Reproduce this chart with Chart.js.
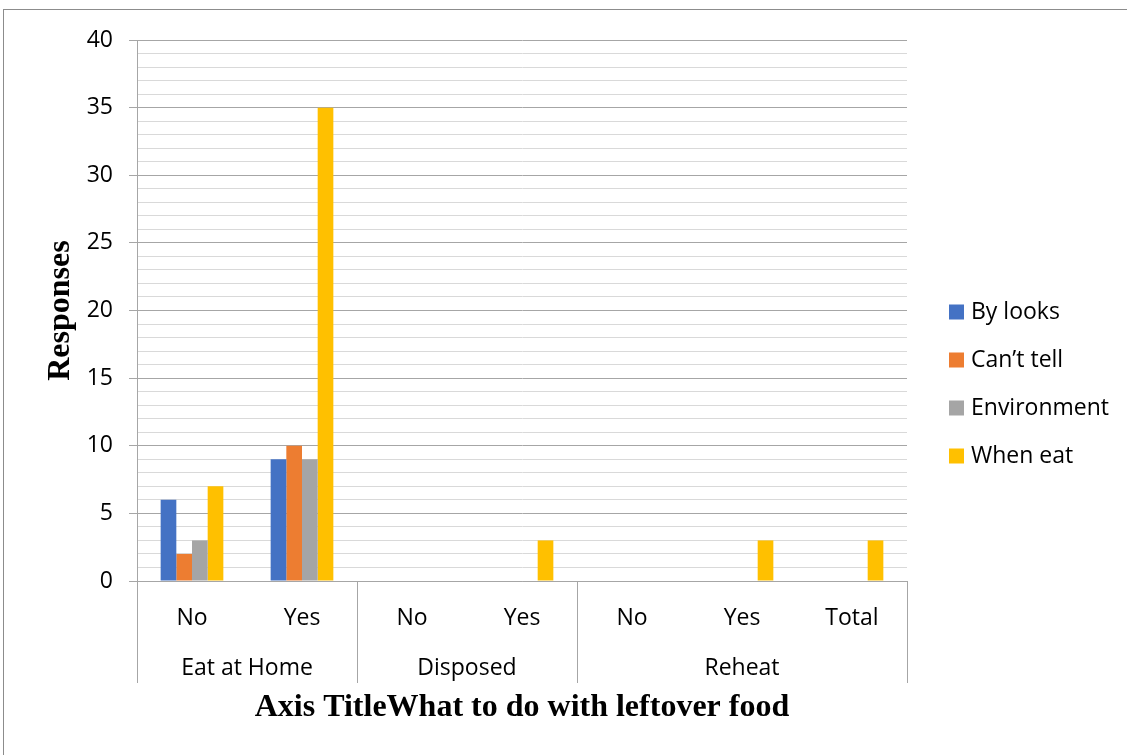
<!DOCTYPE html>
<html>
<head>
<meta charset="utf-8">
<script src="https://cdn.jsdelivr.net/npm/chart.js@4.4.1/dist/chart.umd.min.js"></script>
<style>
  html, body { margin: 0; padding: 0; background: #fff; overflow: hidden; }
  #wrap { position: relative; width: 1127px; height: 755px; }
  #wrap canvas { position: absolute; left: 0; top: 0; }
  #frame { position: absolute; left: 3px; top: 9px; width: 1200px; height: 800px;
           border: 1px solid #8c8c8c; box-sizing: border-box; pointer-events: none; }
</style>
</head>
<body>
<div id="wrap">
  <canvas id="chart" width="1127" height="755"></canvas>
  <div id="frame"></div>
</div>
<script>
// Sub-categories along the x axis and the groups they belong to
const subCategories = ['No', 'Yes', 'No', 'Yes', 'No', 'Yes', 'Total'];
const groupLabels = ['Eat at Home', 'Disposed', 'Reheat'];
const groupSizes = [2, 2, 3];

// Series
const seriesNames = ['By looks', 'Can\u2019t tell', 'Environment', 'When eat'];
const byLooks     = [6, 9, 0, 0, 0, 0, 0];
const cantTell    = [2, 10, 0, 0, 0, 0, 0];
const environment = [3, 9, 0, 0, 0, 0, 0];
const whenEat     = [7, 35, 0, 3, 0, 3, 3];
const seriesColors = ['#4472C4', '#ED7D31', '#A5A5A5', '#FFC000'];

// Axis settings
const yMin = 0, yMax = 40, yMinorStep = 1, yMajorStep = 5;
const yTitle = 'Responses';
const xTitle = 'Axis TitleWhat to do with leftover food';

const SANS = '"Open Sans", "Noto Sans", sans-serif';
const SERIF = '"Liberation Serif", "Times New Roman", serif';
const FONT_SIZE = 23;
const MAJOR_GRID = '#a6a6a6';
const MINOR_GRID = '#d9d9d9';

// Draws the second row of the category axis: group separators and group names
const groupAxisPlugin = {
  id: 'groupAxis',
  afterDraw(chart, args, opts) {
    const x = chart.scales.x;
    const area = chart.chartArea;
    const ctx = chart.ctx;
    const half = (x.getPixelForValue(1) - x.getPixelForValue(0)) / 2;
    ctx.save();
    ctx.strokeStyle = opts.lineColor;
    ctx.lineWidth = 1;
    ctx.fillStyle = opts.color;
    ctx.font = opts.font;
    ctx.textAlign = 'center';
    ctx.textBaseline = 'middle';
    let start = 0;
    groupLabels.forEach((label, i) => {
      const end = start + groupSizes[i] - 1;
      const l = x.getPixelForValue(start) - half;
      const r = x.getPixelForValue(end) + half;
      [l, r].forEach(px => {
        const cx = Math.round(px) + 0.5;
        ctx.beginPath();
        ctx.moveTo(cx, area.bottom);
        ctx.lineTo(cx, area.bottom + opts.lineDepth);
        ctx.stroke();
      });
      ctx.fillText(label, (l + r) / 2, area.bottom + opts.labelOffset);
      start += groupSizes[i];
    });
    ctx.restore();
  }
};

// Vertical legend to the right of the plot
const sideLegendPlugin = {
  id: 'sideLegend',
  afterDraw(chart, args, opts) {
    const ctx = chart.ctx;
    const area = chart.chartArea;
    ctx.save();
    ctx.font = opts.font;
    ctx.textAlign = 'left';
    ctx.textBaseline = 'middle';
    chart.data.datasets.forEach((ds, i) => {
      const x = area.right + opts.offsetX;
      const y = opts.top + i * opts.rowGap;
      ctx.fillStyle = ds.backgroundColor;
      ctx.fillRect(x, y - opts.box / 2, opts.box, opts.box);
      ctx.fillStyle = opts.color;
      ctx.fillText(ds.label, x + opts.box + opts.textGap, y);
    });
    ctx.restore();
  }
};

const seriesData = [byLooks, cantTell, environment, whenEat];

new Chart(document.getElementById('chart'), {
  type: 'bar',
  data: {
    labels: subCategories,
    datasets: seriesNames.map((name, i) => ({
      label: name,
      data: seriesData[i],
      backgroundColor: seriesColors[i],
      borderWidth: 0
    }))
  },
  options: {
    responsive: false,
    animation: false,
    layout: { padding: { top: 40, right: 220, bottom: 0, left: 0 } },
    datasets: { bar: { categoryPercentage: 0.57, barPercentage: 1 } },
    plugins: {
      legend: { display: false },
      tooltip: { enabled: false },
      groupAxis: {
        lineColor: MAJOR_GRID, color: '#000', font: FONT_SIZE + 'px ' + SANS,
        lineDepth: 102, labelOffset: 87
      },
      sideLegend: {
        font: FONT_SIZE + 'px ' + SANS, color: '#000',
        offsetX: 42, top: 312, rowGap: 48, box: 15, textGap: 7
      }
    },
    scales: {
      x: {
        grid: { display: false },
        border: { display: true, color: MAJOR_GRID, width: 1 },
        ticks: { font: { family: SANS, size: FONT_SIZE }, color: '#000', padding: 16, maxRotation: 0, autoSkip: false },
        title: {
          display: true, text: xTitle, color: '#000',
          font: { family: SERIF, size: 32, weight: 'bold' },
          padding: { top: 0, bottom: 28 }
        },
        afterFit(scale) { scale.height = 174; }
      },
      y: {
        min: yMin, max: yMax,
        ticks: {
          stepSize: yMinorStep, autoSkip: false, padding: 16,
          font: { family: SANS, size: FONT_SIZE }, color: '#000',
          callback: v => (v % yMajorStep === 0 ? v : '')
        },
        grid: {
          lineWidth: 1, tickLength: 8,
          color: c => (c.tick && c.tick.value % yMajorStep === 0 ? MAJOR_GRID : MINOR_GRID),
          tickColor: c => (c.tick && c.tick.value % yMajorStep === 0 ? MAJOR_GRID : 'rgba(0,0,0,0)')
        },
        border: { display: true, color: MAJOR_GRID, width: 1 },
        title: {
          display: true, text: yTitle, color: '#000',
          font: { family: SERIF, size: 32, weight: 'bold' },
          padding: { top: 42, bottom: 0 }
        },
        afterFit(scale) { scale.width = 137; }
      }
    }
  },
  plugins: [groupAxisPlugin, sideLegendPlugin]
});
</script>
</body>
</html>
